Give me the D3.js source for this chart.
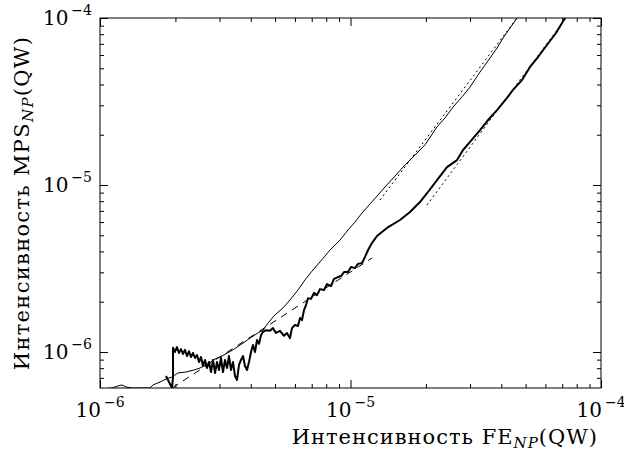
<!DOCTYPE html>
<html><head><meta charset="utf-8">
<script src="https://cdn.jsdelivr.net/npm/d3@7"></script>
<style>body{margin:0;background:#fff}text{font-family:"DejaVu Serif","Liberation Serif",serif;fill:#000}</style>
</head><body><svg id="c" width="624" height="454"></svg>
<script>
// ---- data ----
const xTickValues = [1e-6, 1e-5, 1e-4];
const xTickExps = ["−6", "−5", "−4"];
const yTickValues = [1e-6, 1e-5, 1e-4];
const yTickExps = ["−6", "−5", "−4"];
const xTitle = "Интенсивность FE";
const yTitle = "Интенсивность MPS";
const subText = "NP";
const tailText = "(QW)";

// thin line
const thinX = [1.00e-6,1.117e-6,1.18e-6,1.224e-6,1.27e-6,1.342e-6,1.583e-6,1.628e-6,1.736e-6,1.834e-6,1.938e-6,2.048e-6,2.204e-6,2.373e-6,2.507e-6,2.698e-6,2.878e-6,3.069e-6,3.396e-6,3.689e-6,3.97e-6,4.272e-6,4.473e-6,4.684e-6,4.996e-6,5.328e-6,5.734e-6,6.171e-6,6.581e-6,7.02e-6,7.554e-6,8.283e-6,9.081e-6,9.772e-6,1.042e-5,1.112e-5,1.196e-5,1.288e-5,1.373e-5,1.505e-5,1.651e-5,1.809e-5,1.984e-5,2.215e-5,2.384e-5,2.566e-5,2.787e-5,3.00e-5,3.289e-5,3.606e-5,3.845e-5,4.063e-5,4.333e-5,4.62e-5];
const thinY = [6.00e-7,6.09e-7,6.26e-7,6.35e-7,6.17e-7,6.09e-7,6.09e-7,6.35e-7,6.61e-7,6.89e-7,7.08e-7,7.49e-7,7.59e-7,7.80e-7,8.02e-7,8.47e-7,9.08e-7,9.46e-7,1.03e-6,1.12e-6,1.21e-6,1.30e-6,1.35e-6,1.49e-6,1.67e-6,1.81e-6,2.05e-6,2.35e-6,2.70e-6,3.05e-6,3.46e-6,4.08e-6,4.68e-6,5.38e-6,6.00e-6,6.80e-6,7.70e-6,8.71e-6,9.73e-6,1.13e-5,1.32e-5,1.51e-5,1.74e-5,2.23e-5,2.52e-5,2.93e-5,3.37e-5,3.86e-5,4.75e-5,5.76e-5,6.61e-5,7.59e-5,8.71e-5,1.00e-4];

// thick line
const thickX = [1.834e-6,1.886e-6,1.938e-6,1.956e-6,1.956e-6,1.992e-6,2.029e-6,2.067e-6,2.105e-6,2.144e-6,2.184e-6,2.225e-6,2.266e-6,2.308e-6,2.351e-6,2.395e-6,2.439e-6,2.484e-6,2.530e-6,2.577e-6,2.625e-6,2.674e-6,2.723e-6,2.774e-6,2.826e-6,2.878e-6,2.931e-6,2.985e-6,3.041e-6,3.097e-6,3.155e-6,3.214e-6,3.273e-6,3.334e-6,3.396e-6,3.459e-6,3.523e-6,3.589e-6,3.655e-6,3.723e-6,3.792e-6,3.862e-6,3.934e-6,4.007e-6,4.081e-6,4.157e-6,4.234e-6,4.313e-6,4.393e-6,4.473e-6,4.599e-6,4.771e-6,4.904e-6,5.041e-6,5.231e-6,5.427e-6,5.578e-6,5.734e-6,5.840e-6,6.003e-6,6.171e-6,6.287e-6,6.402e-6,6.521e-6,6.642e-6,6.765e-6,6.955e-6,7.150e-6,7.351e-6,7.554e-6,7.839e-6,8.059e-6,8.360e-6,8.593e-6,8.915e-6,9.165e-6,9.421e-6,9.772e-6,1.005e-5,1.042e-5,1.071e-5,1.112e-5,1.143e-5,1.175e-5,1.218e-5,1.276e-5,1.398e-5,1.576e-5,1.728e-5,1.894e-5,2.039e-5,2.215e-5,2.428e-5,2.662e-5,2.813e-5,3.00e-5,3.289e-5,3.54e-5,3.845e-5,4.215e-5,4.454e-5,4.837e-5,5.208e-5,5.605e-5,6.086e-5,6.613e-5,7.183e-5];
const thickY = [7.18e-7,6.61e-7,6.09e-7,6.99e-7,1.06e-6,1.00e-6,1.07e-6,9.86e-7,1.04e-6,9.73e-7,1.03e-6,9.46e-7,1.01e-6,9.33e-7,9.86e-7,9.21e-7,9.59e-7,8.71e-7,9.33e-7,8.25e-7,8.96e-7,8.02e-7,8.71e-7,7.59e-7,8.96e-7,7.49e-7,8.71e-7,7.80e-7,9.21e-7,7.59e-7,8.96e-7,8.02e-7,9.46e-7,7.80e-7,8.71e-7,7.18e-7,6.80e-7,8.36e-7,8.96e-7,9.46e-7,8.25e-7,7.80e-7,8.71e-7,1.00e-6,1.10e-6,1.00e-6,1.18e-6,1.12e-6,1.26e-6,1.32e-6,1.35e-6,1.34e-6,1.39e-6,1.30e-6,1.34e-6,1.25e-6,1.30e-6,1.21e-6,1.39e-6,1.45e-6,1.43e-6,1.60e-6,1.55e-6,1.78e-6,1.91e-6,2.10e-6,2.08e-6,2.26e-6,2.19e-6,2.38e-6,2.35e-6,2.55e-6,2.48e-6,2.74e-6,2.81e-6,2.85e-6,3.01e-6,3.01e-6,3.23e-6,3.18e-6,3.37e-6,3.41e-6,3.71e-6,4.08e-6,4.49e-6,4.95e-6,5.53e-6,6.17e-6,6.89e-6,7.91e-6,9.08e-6,1.07e-5,1.28e-5,1.41e-5,1.62e-5,1.81e-5,2.13e-5,2.45e-5,2.81e-5,3.32e-5,3.71e-5,4.25e-5,5.09e-5,5.84e-5,6.89e-5,8.13e-5,1.00e-4];

// fitted guide lines
const dashX = [1.94e-6, 1.22e-5];
const dashY = [6.09e-7, 3.66e-6];
const dot1X = [1.311e-5, 4.62e-5];
const dot1Y = [8.13e-6, 1.00e-4];
const dot2X = [2.02e-5, 7.25e-5];
const dot2Y = [7.59e-6, 1.00e-4];

// ---- layout ----
const L = 100, R = 601, T = 18, B = 388;
const svg = d3.select("#c");
const x = d3.scaleLog().domain([1e-6, 1e-4]).range([L, R]);
const y = d3.scaleLog().domain([6.087e-7, 1e-4]).range([B, T]);

svg.append("defs").append("clipPath").attr("id", "clip")
  .append("rect").attr("x", L).attr("y", T).attr("width", R - L).attr("height", B - T);

const line = d3.line().x(d => x(d[0])).y(d => y(d[1]));
const zipP = (a, b) => a.map((v, i) => [v, b[i]]);
const plot = svg.append("g").attr("clip-path", "url(#clip)");

plot.append("path").attr("d", line(zipP(dashX, dashY)))
  .attr("fill", "none").attr("stroke", "#000").attr("stroke-width", 1).attr("stroke-dasharray", "7,6");
plot.append("path").attr("d", line(zipP(dot1X, dot1Y)))
  .attr("fill", "none").attr("stroke", "#000").attr("stroke-width", 1).attr("stroke-dasharray", "2,3");
plot.append("path").attr("d", line(zipP(dot2X, dot2Y)))
  .attr("fill", "none").attr("stroke", "#000").attr("stroke-width", 1).attr("stroke-dasharray", "2,3");
plot.append("path").attr("d", line(zipP(thinX, thinY)))
  .attr("fill", "none").attr("stroke", "#000").attr("stroke-width", 1);
plot.append("path").attr("d", line(zipP(thickX, thickY)))
  .attr("fill", "none").attr("stroke", "#000").attr("stroke-width", 2).attr("stroke-linejoin", "round");

// ---- axes (inward ticks on all sides) ----
const isMajor = v => Math.abs(Math.log10(v) - Math.round(Math.log10(v))) < 1e-9;
const minorX = x.ticks().filter(v => !isMajor(v));
const minorY = y.ticks().filter(v => !isMajor(v) && v >= y.domain()[0]);
function ax(gen, tr, vals, size) {
  const g = svg.append("g").attr("transform", tr)
    .call(gen.tickValues(vals).tickSize(size).tickFormat(""));
  g.select(".domain").remove();
  g.selectAll("line").attr("stroke", "#000");
}
ax(d3.axisBottom(x), `translate(0,${B})`, minorX, -4);
ax(d3.axisBottom(x), `translate(0,${B})`, xTickValues, -8);
ax(d3.axisTop(x), `translate(0,${T})`, minorX, -4);
ax(d3.axisTop(x), `translate(0,${T})`, xTickValues, -8);
ax(d3.axisLeft(y), `translate(${L},0)`, minorY, -4);
ax(d3.axisLeft(y), `translate(${L},0)`, yTickValues, -8);
ax(d3.axisRight(y), `translate(${R},0)`, minorY, -4);
ax(d3.axisRight(y), `translate(${R},0)`, yTickValues, -8);

svg.append("rect").attr("x", L).attr("y", T).attr("width", R - L).attr("height", B - T)
  .attr("fill", "none").attr("stroke", "#000").attr("stroke-width", 1);

// tick labels
xTickValues.forEach((v, i) => {
  const t = svg.append("text").attr("x", x(v)).attr("y", B + 29)
    .attr("text-anchor", "middle").style("font-size", "20px");
  t.append("tspan").text("10");
  t.append("tspan").attr("dx", 3).attr("dy", -10).style("font-size", "14px").text(xTickExps[i]);
});
yTickValues.forEach((v, i) => {
  const t = svg.append("text").attr("x", L - 8).attr("y", y(v) + 7)
    .attr("text-anchor", "end").style("font-size", "20px");
  t.append("tspan").text("10");
  t.append("tspan").attr("dx", 3).attr("dy", -10).style("font-size", "14px").text(yTickExps[i]);
});

// axis titles
const xt = svg.append("text").attr("x", 598).attr("y", 444)
  .attr("text-anchor", "end").style("font-size", "21px").style("letter-spacing", "1px");
xt.append("tspan").text(xTitle);
xt.append("tspan").attr("dy", 4).style("font-size", "15px").style("font-style", "italic").text(subText);
xt.append("tspan").attr("dy", -4).text(tailText);

const yt = svg.append("text").attr("transform", `translate(29,${(T + B) / 2}) rotate(-90)`)
  .attr("text-anchor", "middle").style("font-size", "21px").style("letter-spacing", "1.3px");
yt.append("tspan").text(yTitle);
yt.append("tspan").attr("dy", 4).style("font-size", "15px").style("font-style", "italic").text(subText);
yt.append("tspan").attr("dy", -4).text(tailText);
</script></body></html>
